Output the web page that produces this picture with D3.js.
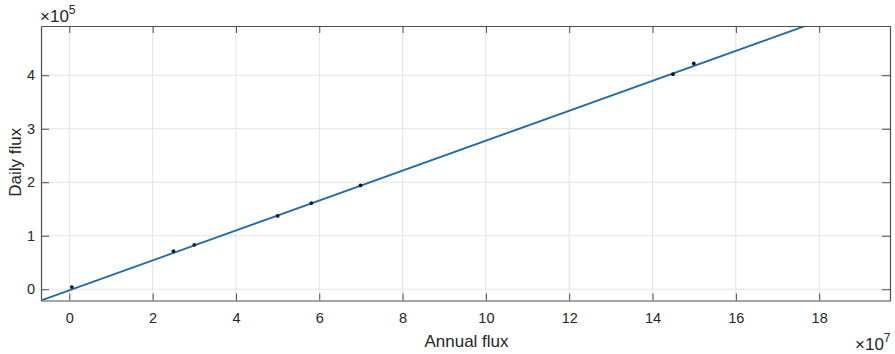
<!DOCTYPE html>
<html>
<head>
<meta charset="utf-8">
<script src="https://cdn.jsdelivr.net/npm/d3@7"></script>
<style>
  body { margin: 0; background: #fff; }
  text { font-family: "Liberation Sans", Arial, sans-serif; }
</style>
</head>
<body>
<div id="chart"></div>
<script>
// annual flux in units of 1e7, daily flux in units of 1e5
const annualFlux = [0.06, 2.5, 3.0, 5.0, 5.81, 6.99, 14.49, 14.99];
const dailyFlux = [0.04, 0.71, 0.83, 1.37, 1.61, 1.94, 4.02, 4.22];
// fitted line end points
const fitX = [-0.68, 19.7];
const fitY = [-0.21, 5.49];
const xTicks = [0, 2, 4, 6, 8, 10, 12, 14, 16, 18];
const yTicks = [0, 1, 2, 3, 4];
const xDomain = [-0.68, 19.7];
const yDomain = [-0.21, 4.92];

const width = 895, height = 354;
const margin = { top: 26, right: 5, bottom: 53.5, left: 41 };
const iw = width - margin.left - margin.right;
const ih = height - margin.top - margin.bottom;

const svg = d3.select('#chart').append('svg')
  .attr('width', width).attr('height', height);

const g = svg.append('g')
  .attr('transform', `translate(${margin.left},${margin.top})`);

const x = d3.scaleLinear().domain(xDomain).range([0, iw]);
const y = d3.scaleLinear().domain(yDomain).range([ih, 0]);

// grid
g.append('g').selectAll('line').data(xTicks).enter().append('line')
  .attr('x1', d => x(d)).attr('x2', d => x(d))
  .attr('y1', 0).attr('y2', ih)
  .attr('stroke', '#e3e3e3').attr('stroke-width', 1);
g.append('g').selectAll('line').data(yTicks).enter().append('line')
  .attr('y1', d => y(d)).attr('y2', d => y(d))
  .attr('x1', 0).attr('x2', iw)
  .attr('stroke', '#e3e3e3').attr('stroke-width', 1);

g.append('clipPath').attr('id', 'clip')
  .append('rect').attr('width', iw).attr('height', ih);

// fit line
const line = d3.line().x(d => x(d[0])).y(d => y(d[1]));
g.append('path')
  .datum(fitX.map((v, i) => [v, fitY[i]]))
  .attr('clip-path', 'url(#clip)')
  .attr('fill', 'none')
  .attr('stroke', '#1f6aa8')
  .attr('stroke-width', 1.8)
  .attr('d', line);

// data points
g.selectAll('circle.pt')
  .data(annualFlux.map((v, i) => [v, dailyFlux[i]]))
  .enter().append('circle')
  .attr('class', 'pt')
  .attr('cx', d => x(d[0]))
  .attr('cy', d => y(d[1]))
  .attr('r', 1.9)
  .attr('fill', '#111827');

// axes (MATLAB style: ticks inside, box on)
const axisColor = '#4d4d4d';
const fmt = d3.format('d');
const xb = g.append('g').attr('transform', `translate(0,${ih})`)
  .call(d3.axisBottom(x).tickValues(xTicks).tickFormat(fmt).tickSizeInner(-7).tickSizeOuter(0).tickPadding(12));
const xt = g.append('g')
  .call(d3.axisTop(x).tickValues(xTicks).tickSizeInner(-7).tickSizeOuter(0).tickFormat(''));
const yl = g.append('g')
  .call(d3.axisLeft(y).tickValues(yTicks).tickFormat(fmt).tickSizeInner(-8).tickSizeOuter(0).tickPadding(6));
const yr = g.append('g').attr('transform', `translate(${iw},0)`)
  .call(d3.axisRight(y).tickValues(yTicks).tickSizeInner(-8).tickSizeOuter(0).tickFormat(''));

[xb, xt, yl, yr].forEach(a => {
  a.select('.domain').attr('stroke', axisColor).attr('stroke-width', 1.2);
  a.selectAll('.tick line').attr('stroke', axisColor).attr('stroke-width', 1);
  a.selectAll('.tick text').attr('fill', '#262626').style('font-size', '14.5px')
    .style('font-family', '"Liberation Sans", Arial, sans-serif');
});

// axis labels
svg.append('text')
  .attr('x', margin.left + iw / 2 + 1).attr('y', 347)
  .attr('text-anchor', 'middle')
  .attr('fill', '#262626').style('font-size', '17px')
  .text('Annual flux');

svg.append('text')
  .attr('transform', `translate(21,${margin.top + ih / 2 - 1}) rotate(-90)`)
  .attr('text-anchor', 'middle')
  .attr('fill', '#262626').style('font-size', '17px')
  .text('Daily flux');

// exponent labels
const exp5 = svg.append('text')
  .attr('x', 40).attr('y', 22)
  .attr('fill', '#262626').style('font-size', '17px');
exp5.append('tspan').text('\u00d710');
exp5.append('tspan').attr('dy', -8).style('font-size', '12px').text('5');

const exp7 = svg.append('text')
  .attr('x', 855).attr('y', 350)
  .attr('fill', '#262626').style('font-size', '17px');
exp7.append('tspan').text('\u00d710');
exp7.append('tspan').attr('dy', -8).style('font-size', '12px').text('7');
</script>
</body>
</html>
